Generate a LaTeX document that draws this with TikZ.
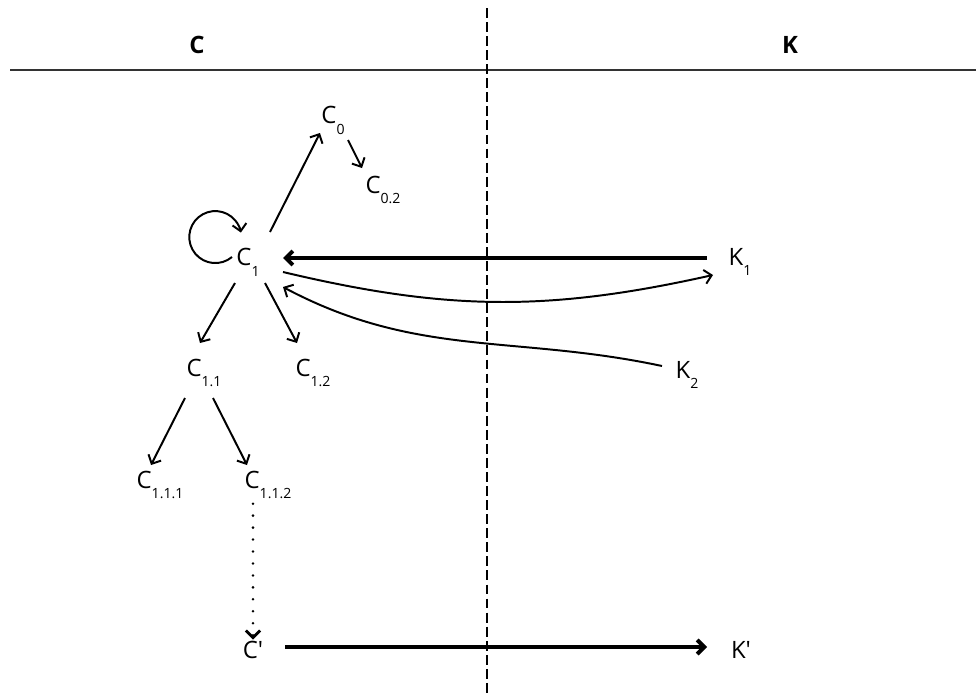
\documentclass[tikz,border=0pt]{standalone}
\usepackage{fontspec}
\setmainfont{Open Sans}
\usetikzlibrary{arrows.meta,positioning}
\newcommand{\low}[1]{\raisebox{-0.85ex}{\fontsize{10}{11}\selectfont #1}}

\begin{document}
\begin{tikzpicture}[
  x=0.025cm, y=0.025cm,
  every node/.style={font=\fontsize{17}{20}\selectfont, inner sep=3pt},
  head/.style={font=\fontsize{17}{20}\selectfont\bfseries},
  link/.style={->, line width=1.4pt},
  strong/.style={->, line width=2.8pt},
  dotlink/.style={->, line width=2pt, line cap=round,
                  dash pattern=on 0pt off 8.5pt},
  >={Straight Barb[length=5pt,width=10pt]}
]
\useasboundingbox (0,0) rectangle (976,-697);

% columns
\node[head] (hc) at (197,-45) {C};
\node[head] (hk) at (790,-45) {K};
\draw[line width=1.4pt, black!80] (10,-70) -- (976,-70);
\draw[line width=1.1pt, dash pattern=on 7pt off 3pt] (487,-8) -- (487,-697);

% C side
\node (c0) at (333,-120) {C\low{0}};
\node (c02) at (383,-190) {C\low{0.2}};
\node (c1) at (248,-262) {C\low{1}};
\node (c11) at (204,-373) {C\low{1.1}};
\node (c12) at (313,-373) {C\low{1.2}};
\node (c111) at (160,-485) {C\low{1.1.1}};
\node (c112) at (268,-485) {C\low{1.1.2}};
\node (cp) at (253,-650) {C′};

% K side
\node (k1) at (740,-262) {K\low{1}};
\node (k2) at (687,-375) {K\low{2}};
\node (kp) at (741,-650) {K′};

% tree
\draw[link] ([shift={(22,30)}]c1.center) -- ([shift={(-13,-13)}]c0.center);
\draw[link] ([shift={(15,-20)}]c0.center) -- ([shift={(-21,22)}]c02.center);
\draw[link] ([shift={(-16,5)}]c1.center) arc[start angle=-50, end angle=-350, radius=26];
\draw[link] ([shift={(-13,-21)}]c1.center) -- ([shift={(-4,30)}]c11.center);
\draw[link] ([shift={(17,-21)}]c1.center) -- ([shift={(-16,30)}]c12.center);
\draw[link] ([shift={(-19,-25)}]c11.center) -- ([shift={(-9,20)}]c111.center);
\draw[link] ([shift={(9,-25)}]c11.center) -- ([shift={(-21,20)}]c112.center);
\draw[dotlink] (cp.north |- c112.south) -- ([yshift=-2pt]cp.north);

% across
\draw[strong] ([shift={(-33,4)}]k1.center) -- ([shift={(35,4)}]c1.center);
\draw[link] ([shift={(35,-10)}]c1.center) to[bend right=13] ([shift={(-27,-13)}]k1.center);
\draw[link] ([shift={(-25,9)}]k2.center) to[out=168, in=-28] ([shift={(35,-25)}]c1.center);
\draw[strong] ([shift={(32,3)}]cp.center) -- ([shift={(-34,3)}]kp.center);

\end{tikzpicture}
\end{document}
